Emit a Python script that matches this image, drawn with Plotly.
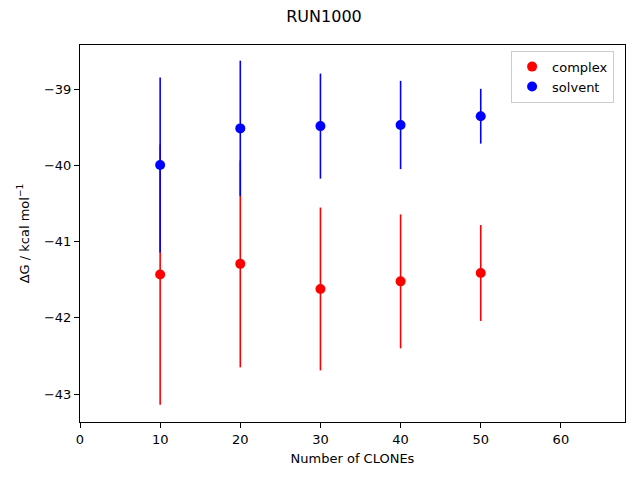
import plotly.graph_objects as go

clones = [10, 20, 30, 40, 50]
complex_dg = [-41.43, -41.29, -41.62, -41.52, -41.41]
complex_err = [1.71, 1.36, 1.07, 0.88, 0.63]
solvent_dg = [-39.99, -39.51, -39.48, -39.465, -39.35]
solvent_err = [1.15, 0.89, 0.69, 0.58, 0.36]

font = "DejaVu Sans"
fig = go.Figure()
fig.add_trace(go.Scatter(
    x=clones, y=complex_dg, mode="markers", name="complex",
    marker=dict(color="red", size=10),
    error_y=dict(type="data", array=complex_err, color="red", thickness=1.6, width=0),
))
fig.add_trace(go.Scatter(
    x=clones, y=solvent_dg, mode="markers", name="solvent",
    marker=dict(color="blue", size=10),
    error_y=dict(type="data", array=solvent_err, color="blue", thickness=1.6, width=0),
))

axis_common = dict(
    showgrid=False, zeroline=False, showline=True, linecolor="black", linewidth=1,
    mirror=True, ticks="outside", ticklen=5, tickwidth=1, tickcolor="black",
    tickfont=dict(family=font, size=13, color="black"),
)
fig.update_layout(
    width=632, height=472,
    paper_bgcolor="white", plot_bgcolor="white",
    margin=dict(l=72, r=15, t=37, b=58),
    title=dict(text="RUN1000", x=0.5, xanchor="center", y=0.983, yanchor="middle",
               font=dict(family=font, size=16, color="black")),
    xaxis=dict(range=[0, 68], tickvals=[0, 10, 20, 30, 40, 50, 60],
               title=dict(text="Number of CLONEs", font=dict(family=font, size=13, color="black"), standoff=8),
               **axis_common),
    yaxis=dict(range=[-43.368, -38.414], tickvals=[-43, -42, -41, -40, -39],
               title=dict(text="ΔG / kcal mol<sup>−1</sup>", font=dict(family=font, size=13, color="black"), standoff=11),
               **axis_common),
    legend=dict(x=0.98, y=0.985, xanchor="right", yanchor="top",
                bgcolor="rgba(255,255,255,0.8)", bordercolor="#cccccc", borderwidth=1,
                font=dict(family=font, size=13, color="black"), itemwidth=30),
    showlegend=True,
)
fig.write_html("out.html")
